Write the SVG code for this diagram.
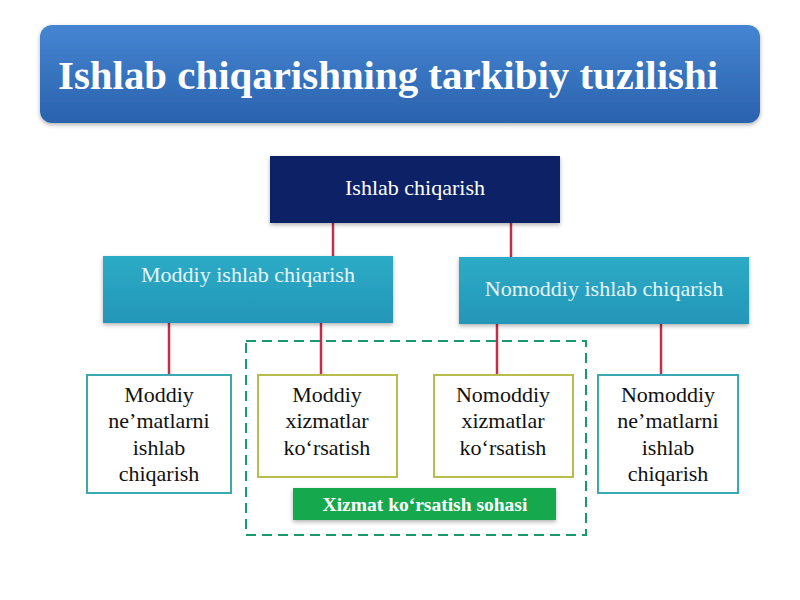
<svg xmlns="http://www.w3.org/2000/svg" width="800" height="600" viewBox="0 0 800 600">
<defs>
<linearGradient id="gTitle" x1="0" y1="0" x2="0" y2="1">
<stop offset="0" stop-color="#4585d2"/>
<stop offset="1" stop-color="#2a62ad"/>
</linearGradient>
<linearGradient id="gTeal" x1="0" y1="0" x2="0" y2="1">
<stop offset="0" stop-color="#2cabc6"/>
<stop offset="1" stop-color="#2496b8"/>
</linearGradient>
<filter id="sh" x="-5%" y="-10%" width="110%" height="130%">
<feDropShadow dx="0" dy="2" stdDeviation="2" flood-color="#000" flood-opacity="0.3"/>
</filter>
</defs>
<style>
.t{font-family:"Liberation Serif","Times New Roman",serif;}
.w{fill:#ffffff;}
.k{fill:#111111;font-size:22px;text-anchor:middle;}
.c{stroke:#c0304a;stroke-width:2.5;fill:none;}
.b1{fill:#ffffff;stroke:#3aa9b2;stroke-width:2;}
.b2{fill:#ffffff;stroke:#b9bd4e;stroke-width:2;}
</style>
<rect width="800" height="600" fill="#ffffff"/>
<g id="title">
<rect x="40" y="25" width="720" height="98" rx="12" fill="url(#gTitle)" filter="url(#sh)"/>
<text class="t w" x="58" y="89" font-size="40" font-weight="bold" textLength="660" lengthAdjust="spacingAndGlyphs">Ishlab chiqarishning tarkibiy tuzilishi</text>
</g>
<g id="connectors">
<line class="c" x1="333" y1="223" x2="333" y2="256"/>
<line class="c" x1="511" y1="223" x2="511" y2="257"/>
<line class="c" x1="169" y1="323" x2="169" y2="375"/>
<line class="c" x1="321" y1="323" x2="321" y2="375"/>
<line class="c" x1="497" y1="324" x2="497" y2="375"/>
<line class="c" x1="661" y1="324" x2="661" y2="375"/>
</g>
<g id="service-area">
<rect x="246" y="341" width="340" height="194" fill="none" stroke="#1a9a6a" stroke-width="2" stroke-dasharray="10 6"/>
</g>
<g id="n-root">
<rect x="270" y="156" width="290" height="67" fill="#0c2166" filter="url(#sh)"/>
<text class="t w" x="415" y="195" font-size="22" text-anchor="middle">Ishlab chiqarish</text>
</g>
<g id="n-moddiy">
<rect x="103" y="256" width="290" height="67" fill="url(#gTeal)" filter="url(#sh)"/>
<text class="t" x="248" y="282" font-size="22" text-anchor="middle" fill="#e6f6fa">Moddiy ishlab chiqarish</text>
</g>
<g id="n-nomoddiy">
<rect x="459" y="257" width="290" height="67" fill="url(#gTeal)" filter="url(#sh)"/>
<text class="t" x="604" y="296" font-size="22" text-anchor="middle" fill="#e6f6fa">Nomoddiy ishlab chiqarish</text>
</g>
<g id="n-b1">
<rect class="b1" x="87" y="375" width="144" height="118"/>
<text class="t k" x="159" y="402">Moddiy</text>
<text class="t k" x="159" y="428">ne’matlarni</text>
<text class="t k" x="159" y="455">ishlab</text>
<text class="t k" x="159" y="481">chiqarish</text>
</g>
<g id="n-b2">
<rect class="b2" x="258" y="375" width="139" height="102"/>
<text class="t k" x="327" y="402">Moddiy</text>
<text class="t k" x="327" y="428">xizmatlar</text>
<text class="t k" x="327" y="455">ko‘rsatish</text>
</g>
<g id="n-b3">
<rect class="b2" x="434" y="375" width="139" height="102"/>
<text class="t k" x="503" y="402">Nomoddiy</text>
<text class="t k" x="503" y="428">xizmatlar</text>
<text class="t k" x="503" y="455">ko‘rsatish</text>
</g>
<g id="n-b4">
<rect class="b1" x="598" y="375" width="140" height="118"/>
<text class="t k" x="668" y="402">Nomoddiy</text>
<text class="t k" x="668" y="428">ne’matlarni</text>
<text class="t k" x="668" y="455">ishlab</text>
<text class="t k" x="668" y="481">chiqarish</text>
</g>
<g id="n-label">
<rect x="293" y="488" width="263" height="32" fill="#14a84e" filter="url(#sh)"/>
<text class="t w" x="425" y="511" font-size="19.5" font-weight="bold" text-anchor="middle">Xizmat ko‘rsatish sohasi</text>
</g>
</svg>
